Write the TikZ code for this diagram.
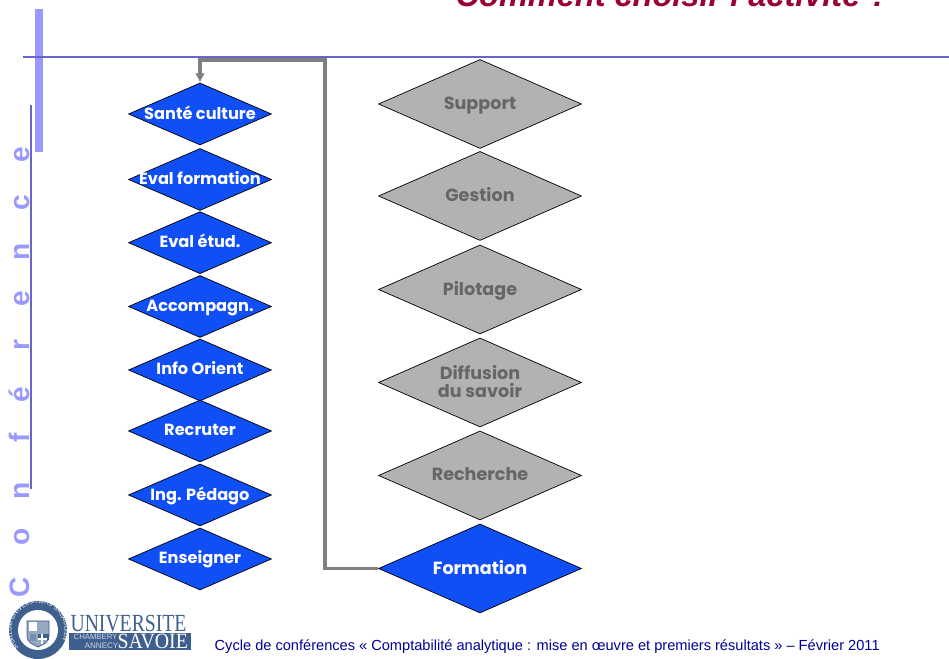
\documentclass[tikz,border=0pt]{standalone}
\usepackage{fontspec}
\setmainfont{Poppins}
\setsansfont{Liberation Sans}
\usetikzlibrary{shapes.geometric}
\usetikzlibrary{arrows.meta}
\usetikzlibrary{decorations.text}
\definecolor{bar}{HTML}{9999FF}
\definecolor{rule}{HTML}{6666CC}
\definecolor{titlered}{HTML}{990033}
\definecolor{diablue}{HTML}{0F4FF5}
\definecolor{diagray}{HTML}{B2B2B2}
\definecolor{savoie}{HTML}{3F5F8F}
\newcommand{\lbl}[1]{\makebox[0pt]{\raisebox{-.6ex}[0pt][0pt]{\begin{tabular}{@{}c@{}}#1\end{tabular}}}}
\tikzset{>=latex}
\tikzset{
  smalldia/.style={diamond, draw=black, line width=0.2pt, fill=diablue, text=white, inner sep=0pt, minimum width=1.43cm, minimum height=0.62cm, font=\fontsize{4.6}{5}\selectfont\bfseries},
  bigdia/.style={diamond, draw=black, line width=0.2pt, fill=diagray, text=black!60, inner sep=0pt, minimum width=2.03cm, minimum height=0.89cm, font=\fontsize{5}{5.2}\selectfont\bfseries},
  vletter/.style={rotate=90, anchor=base, text=bar, font=\sffamily\bfseries\fontsize{8}{9}\selectfont, inner sep=0pt},
}
\begin{document}
\begin{tikzpicture}
      \useasboundingbox (0,0) rectangle (9.49,6.59);
      % frame
      \fill[bar] (0.35,6.50) rectangle (0.43,5.07);
      \draw[rule, line width=0.3pt] (0.23,6.02) -- (9.49,6.02);
      \draw[rule, line width=0.3pt] (0.31,5.54) -- (0.31,1.70);
      \node[anchor=base east, inner sep=0pt, text=titlered, font=\sffamily\fontsize{9.25}{10}\selectfont\bfseries\itshape] (title) at (8.90,6.525) {Comment choisir l'activité ?};
      % letters
      \foreach \c/\y/\n in {C/0.72/a, o/1.22/b, n/1.68/c, f/2.21/d, é/2.64/e, r/3.14/f, e/3.60/g, n/4.07/h, c/4.56/i, e/5.04/j}
        \node[vletter] (letter\n) at (0.30,\y) {\c};
      % left column
      \node[smalldia] (sante) at (2.00,5.45) {\lbl{Santé culture}};
      \node[smalldia] (eval) at (2.00,4.795) {\lbl{Eval formation}};
      \node[smalldia] (etud) at (2.00,4.163) {\lbl{Eval étud.}};
      \node[smalldia] (accomp) at (2.00,3.525) {\lbl{Accompagn.}};
      \node[smalldia] (info) at (2.00,2.89) {\lbl{Info Orient}};
      \node[smalldia] (recruter) at (2.00,2.28) {\lbl{Recruter}};
      \node[smalldia] (ing) at (2.00,1.64) {\lbl{Ing. Pédago}};
      \node[smalldia] (enseigner) at (2.00,1.00) {\lbl{Enseigner}};
      % right column
      \node[bigdia] (support) at (4.80,5.55) {\lbl{Support}};
      \node[bigdia] (gestion) at (4.80,4.63) {\lbl{Gestion}};
      \node[bigdia] (pilotage) at (4.80,3.695) {\lbl{Pilotage}};
      \node[bigdia] (diffusion) at (4.80,2.765) {\lbl{Diffusion\\[-.5pt]du savoir}};
      \node[bigdia] (recherche) at (4.80,1.835) {\lbl{Recherche}};
      \node[bigdia, fill=diablue, text=white] (formation) at (4.80,0.905) {\lbl{Formation}};
      % connector
      \coordinate (turn) at (3.25,5.99);
      \draw[-{Latex[length=2.6pt,width=2.8pt]}, draw=black!50, line width=1.05pt] (formation.west) -| (turn) -| (sante.north);
      % logo
      \begin{scope}[yshift=-0.2mm]
      \node[circle, fill=savoie, minimum size=0.58cm, inner sep=0pt] (seal) at (0.38,0.31) {};
      \node[circle, fill=white, minimum size=0.40cm, inner sep=0pt] (sealin) at (seal) {};
      \path[postaction={decorate, decoration={text along path, text align=center, text={|\fontsize{1.9}{2}\selectfont\color{white}|SIGILLUM UNIVERSITATIS SABAUDIENSIS}}}] (0.135,0.21) arc (202:-22:0.265);
      \draw[savoie, fill=savoie!55, line width=0.2pt] (0.27,0.40) -- (0.49,0.40) -- (0.49,0.25) .. controls (0.49,0.18) and (0.42,0.16) .. (0.38,0.14) .. controls (0.34,0.16) and (0.27,0.18) .. (0.27,0.25) -- cycle;
      \fill[savoie] (0.38,0.27) rectangle (0.49,0.21);
      \fill[white] (0.41,0.17) rectangle (0.43,0.27);
      \fill[white] (0.38,0.21) rectangle (0.47,0.23);
      \fill[white] (0.29,0.30) rectangle (0.37,0.39);
      \fill[savoie!70] (0.30,0.20) rectangle (0.36,0.27);
      \end{scope}
      \node[inner sep=0pt, text=white, fill=savoie, minimum width=1.22cm, minimum height=0.17cm, anchor=west] (band) at (0.68,0.175) {};
      \node[anchor=base west, xscale=0.8, inner sep=0pt, text=savoie, font=\fontspec{Liberation Serif}\fontsize{7}{8}\selectfont] (univ) at (0.70,0.27) {UNIVERSITE};
      \node[anchor=base east, xscale=0.91, inner sep=0pt, text=white, font=\fontspec{Liberation Serif}\fontsize{6.2}{7}\selectfont] (savoiename) at (1.885,0.10) {SAVOIE};
      \node[anchor=west, inner sep=0pt, text=white!75!savoie, font=\sffamily\fontsize{2.2}{2.5}\selectfont] (chambery) at (0.73,0.22) {CHAMBERY};
      \node[anchor=west, inner sep=0pt, text=white!75!savoie, font=\sffamily\fontsize{2.3}{2.5}\selectfont] (annecy) at (0.84,0.13) {ANNECY};
      % footer
      \node[anchor=base west, inner sep=0pt, text=blue!60!black, font=\sffamily\fontsize{4.155}{5}\selectfont] (footer) at (2.14,0.085) {Cycle de conférences « Comptabilité analytique : mise en œuvre et premiers résultats » – Février 2011};
\end{tikzpicture}
\end{document}
